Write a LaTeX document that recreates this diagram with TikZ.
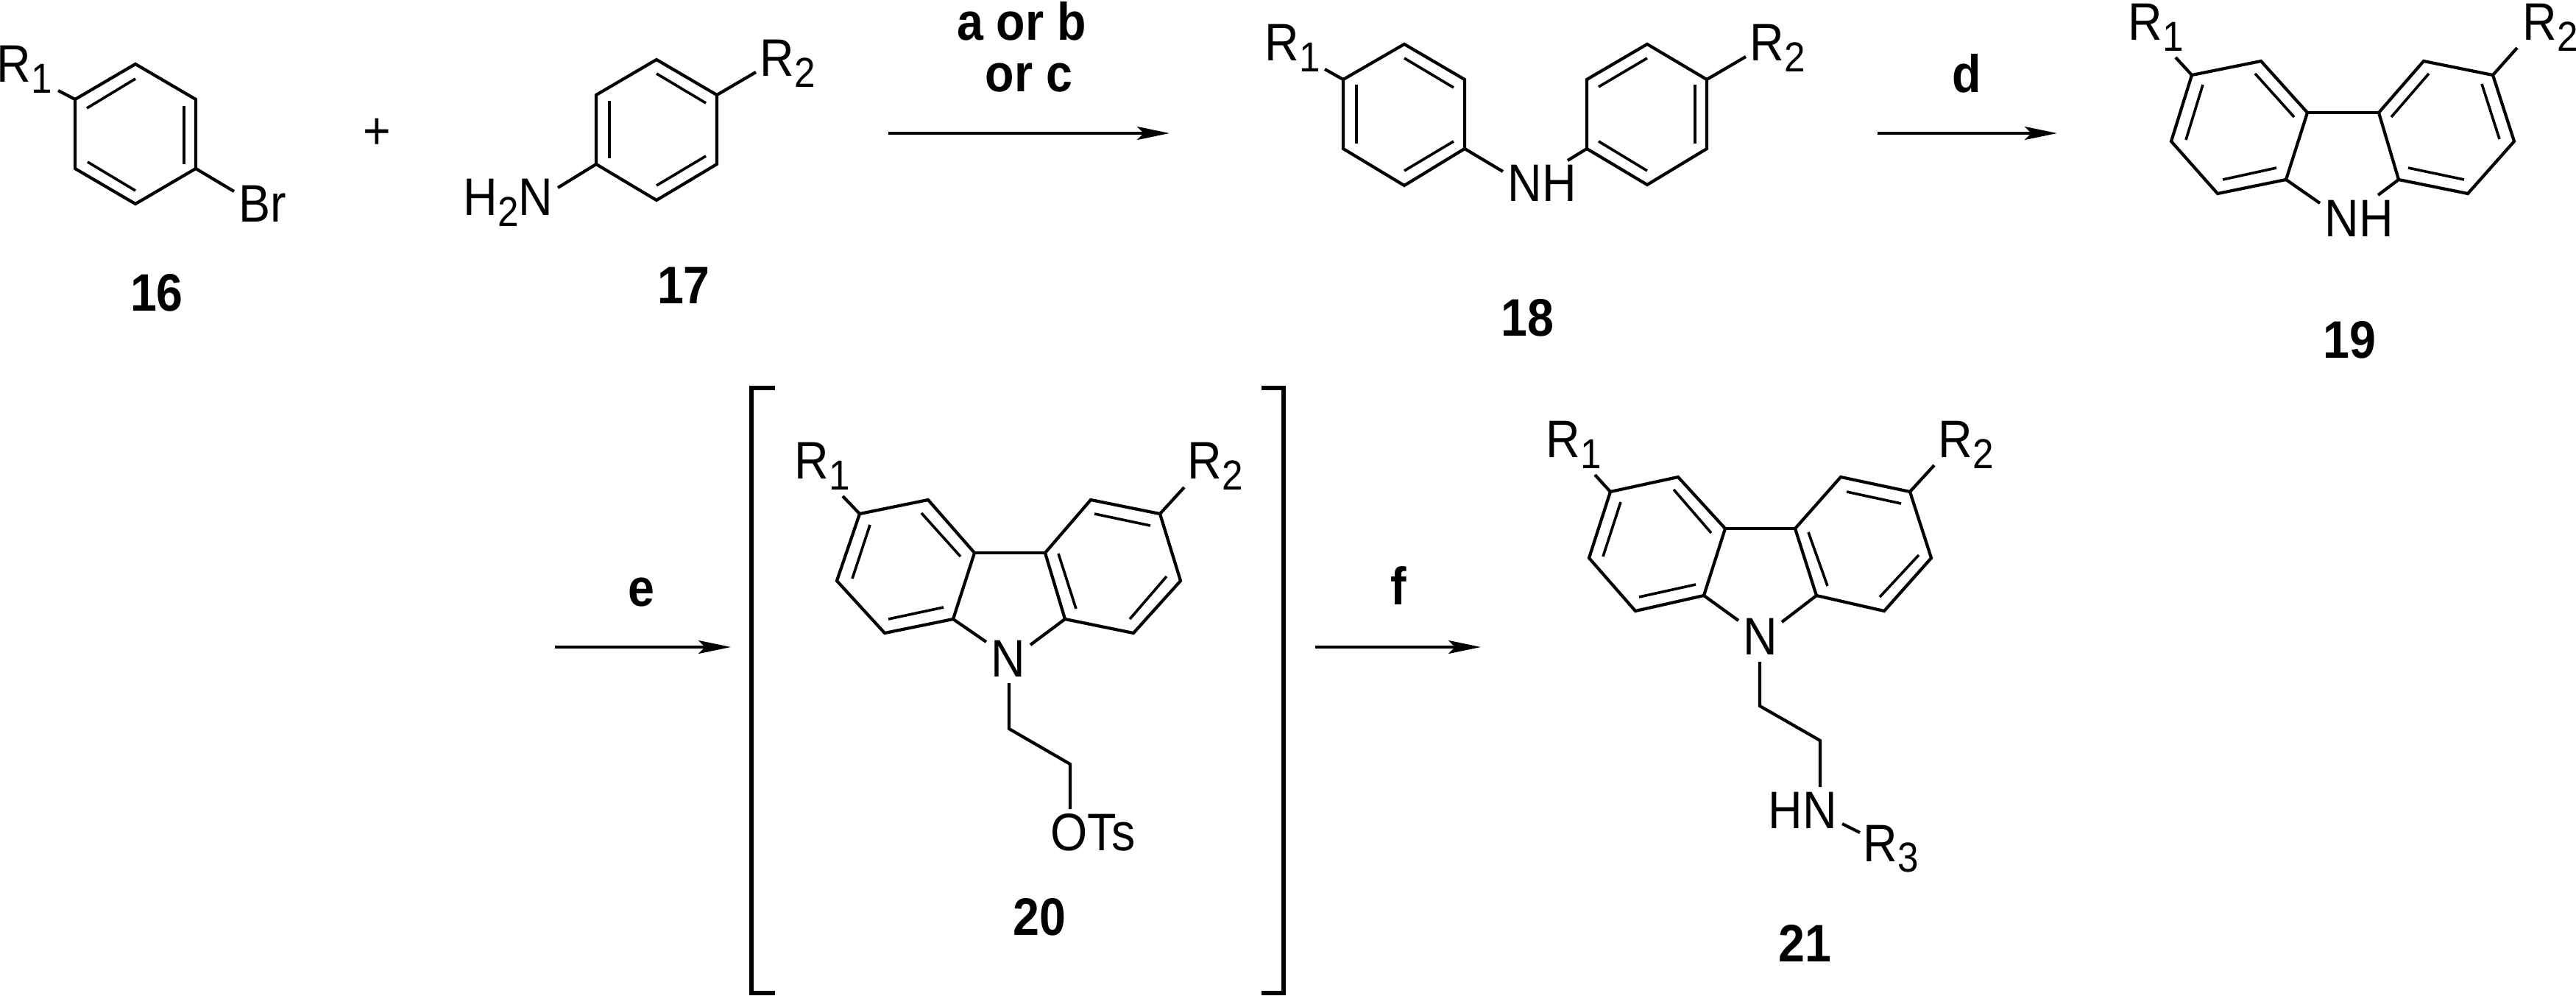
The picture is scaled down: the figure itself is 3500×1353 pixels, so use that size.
\documentclass[tikz,border=0pt]{standalone}
\usepackage{fontspec}
\setmainfont[FakeStretch=0.9]{Liberation Sans}
\usetikzlibrary{arrows.meta}
\newcommand{\rsub}[1]{\raisebox{-0.2em}{\fontsize{16.2}{17}\selectfont #1}}
\tikzset{
    bond/.style={line width=0.42mm},
    rxnarrow/.style={line width=0.42mm,-{Stealth[length=4.4mm,width=1.8mm,inset=0.9mm]}},
    brack/.style={line width=0.6mm},
    lbl/.style={inner sep=0,anchor=base west,font=\fontsize{20.4}{22}\selectfont},
    num/.style={inner sep=0,anchor=base,font=\fontsize{20.4}{22}\selectfont\bfseries}
}
\begin{document}
\begin{tikzpicture}[x=0.1mm,y=-0.1mm]
    \useasboundingbox (0,0) rectangle (3500,1353);
    % rings
    \foreach \n/\x/\y in {p16-a/102/135,p16-b/184/87,p16-c/266/135,p16-d/266/229,p16-e/184/277,p16-f/102/229,
        p17-a/810/129,p17-b/892/81,p17-c/974/129,p17-d/974/223,p17-e/892/272,p17-f/810/223,
        p18-a/1825/108,p18-b/1908/60,p18-c/1990/108,p18-d/1990/202,p18-e/1908/252,p18-f/1825/202,
        q18-a/2156/108,q18-b/2238/60,q18-c/2319/108,q18-d/2319/202,q18-e/2238/251,q18-f/2156/202}
        \coordinate (\n) at (\x,\y);
    \foreach \m in {p16,p17,p18,q18}
        \draw[bond] (\m-a)--(\m-b)--(\m-c)--(\m-d)--(\m-e)--(\m-f)--cycle;
    \foreach \n/\x/\y in {c19-a/2978/102,c19-b/3072/83,c19-c/3135/153,c19-d/3106/244,c19-e/3013/263,c19-f/2950/192,
        c19-p/3387/102,c19-q/3293/83,c19-r/3232/153,c19-s/3259/244,c19-t/3353/263,c19-u/3416/192,
        c20-a/1168/698,c20-b/1261/679,c20-c/1324/751,c20-d/1295/841,c20-e/1202/860,c20-f/1137/789,
        c20-p/1576/698,c20-q/1482/679,c20-r/1420/751,c20-s/1447/841,c20-t/1540/860,c20-u/1604/789,
        c21-a/2188/668,c21-b/2280/648,c21-c/2344/718,c21-d/2315/809,c21-e/2222/830,c21-f/2159/758,
        c21-p/2595/668,c21-q/2501/648,c21-r/2439/718,c21-s/2468/809,c21-t/2560/830,c21-u/2624/758}
        \coordinate (\n) at (\x,\y);
    \foreach \m in {c19,c20,c21}{
        \draw[bond] (\m-a)--(\m-b)--(\m-c)--(\m-d)--(\m-e)--(\m-f)--cycle;
        \draw[bond] (\m-p)--(\m-q)--(\m-r)--(\m-s)--(\m-t)--(\m-u)--cycle;
        \draw[bond] (\m-c)--(\m-r);
    }
    % double bonds
    \foreach \xa/\ya/\xb/\yb in {184/107/118/147,250/144/250/223,119/220/184/259,
        892/100/959/140,828/137/828/215,892/252/959/212,
        1908/79/1975/119,1843/115/1843/195,1908/232/1975/192,
        2238/79/2172/118,2303/115/2303/195,2172/192/2238/232,
        3064/100/3117/159,2993/115/2970/190,3020/244/3093/228,
        3300/100/3249/159,3372/114/3396/189,3272/228/3348/244,
        1252/697/1305/756,1182/713/1158/786,1207/841/1282/825,
        1487/698/1563/714,1585/783/1535/841,1438/752/1462/827,
        2274/665/2325/724,2202/682/2178/756,2227/811/2304/794,
        2509/668/2583/684,2607/754/2554/811,2457/723/2483/796}
        \draw[bond,line width=0.36mm] (\xa,\ya)--(\xb,\yb);
    % labels
    \node[lbl] (r116) at (-5,112) {R\rsub{1}};
    \node[lbl] (br16) at (324,302) {Br};
    \node[lbl,anchor=base] (plus) at (512,203) {+};
    \node[lbl] (r217) at (1032,104) {R\rsub{2}};
    \node[lbl] (nh17) at (629,293) {H\rsub{2}N};
    \node[lbl] (r118) at (1718,83) {R\rsub{1}};
    \node[lbl] (r218) at (2377,83) {R\rsub{2}};
    \node[lbl] (nh18) at (2048,274) {NH};
    \node[lbl] (r119) at (2891,55) {R\rsub{1}};
    \node[lbl] (r219) at (3427,55) {R\rsub{2}};
    \node[lbl] (nh19) at (3158,322) {NH};
    \node[lbl] (r120) at (1079,651) {R\rsub{1}};
    \node[lbl] (r220) at (1613,651) {R\rsub{2}};
    \node[lbl] (n20) at (1346,919) {N};
    \node[lbl] (ots20) at (1427,1155) {OTs};
    \node[lbl] (r121) at (2100,622) {R\rsub{1}};
    \node[lbl] (r221) at (2633,622) {R\rsub{2}};
    \node[lbl] (n21) at (2368,889) {N};
    \node[lbl] (hn21) at (2402,1125) {HN};
    \node[lbl] (r321) at (2531,1170) {R\rsub{3}};
    % compound numbers and conditions
    \node[num] (n16) at (213,423) {16};
    \node[num] (n17) at (929,413) {17};
    \node[num] (n18) at (2075,457) {18};
    \node[num] (n19) at (3192,487) {19};
    \node[num] (n20b) at (1412,1270) {20};
    \node[num] (n21b) at (2452,1306) {21};
    \node[num] (abc) at (1388,55) {a or b};
    \node[num] (orc) at (1398,125) {or c};
    \node[num] (d) at (2672,126) {d};
    \node[num] (e) at (871,823) {e};
    \node[num] (f) at (1900,822) {f};
    % bonds to labels
    \foreach \m/\n/\x/\y in {p16-a/e1/79/123,p16-d/e2/318/260,p17-c/e3/1027/98,p17-f/e4/758/255,
        p18-a/e5/1800/94,p18-d/e6/2042/233,q18-c/e7/2372/77,q18-f/e8/2130/218,
        c19-a/e9/2956/78,c19-p/e10/3420/65,c19-d/e11/3152/276,c19-s/e12/3231/265,
        c20-a/e13/1145/674,c20-p/e14/1609/662,c20-d/e15/1340/872,c20-s/e16/1400/876,
        c21-a/e17/2167/645,c21-p/e18/2628/632,c21-d/e19/2362/843,c21-s/e20/2421/845}{
        \coordinate (\n) at (\x,\y);
        \draw[bond] (\m)--(\n);
    }
    \coordinate (t1) at (1371,928);
    \coordinate (t2) at (1371,990);
    \coordinate (t3) at (1454,1038);
    \coordinate (t4) at (1454,1099);
    \draw[bond] (t1)--(t2)--(t3)--(t4);
    \coordinate (u1) at (2391,899);
    \coordinate (u2) at (2391,959);
    \coordinate (u3) at (2473,1006);
    \coordinate (u4) at (2473,1069);
    \draw[bond] (u1)--(u2)--(u3)--(u4);
    \coordinate (u5) at (2503,1119);
    \coordinate (u6) at (2527,1131);
    \draw[bond] (u5)--(u6);
    % arrows
    \foreach \n/\xa/\xb/\y in {ab/1207/1589/181,bc/2551/2795/181,cd/754/993/879,de/1787/2012/879}{
        \coordinate (\n s) at (\xa,\y);
        \coordinate (\n t) at (\xb,\y);
        \draw[rxnarrow] (\n s)--(\n t);
    }
    % brackets
    \draw[brack] (1053,527)--(1021,527)--(1021,1349)--(1053,1349);
    \draw[brack] (1714,527)--(1744,527)--(1744,1349)--(1714,1349);
\end{tikzpicture}
\end{document}
